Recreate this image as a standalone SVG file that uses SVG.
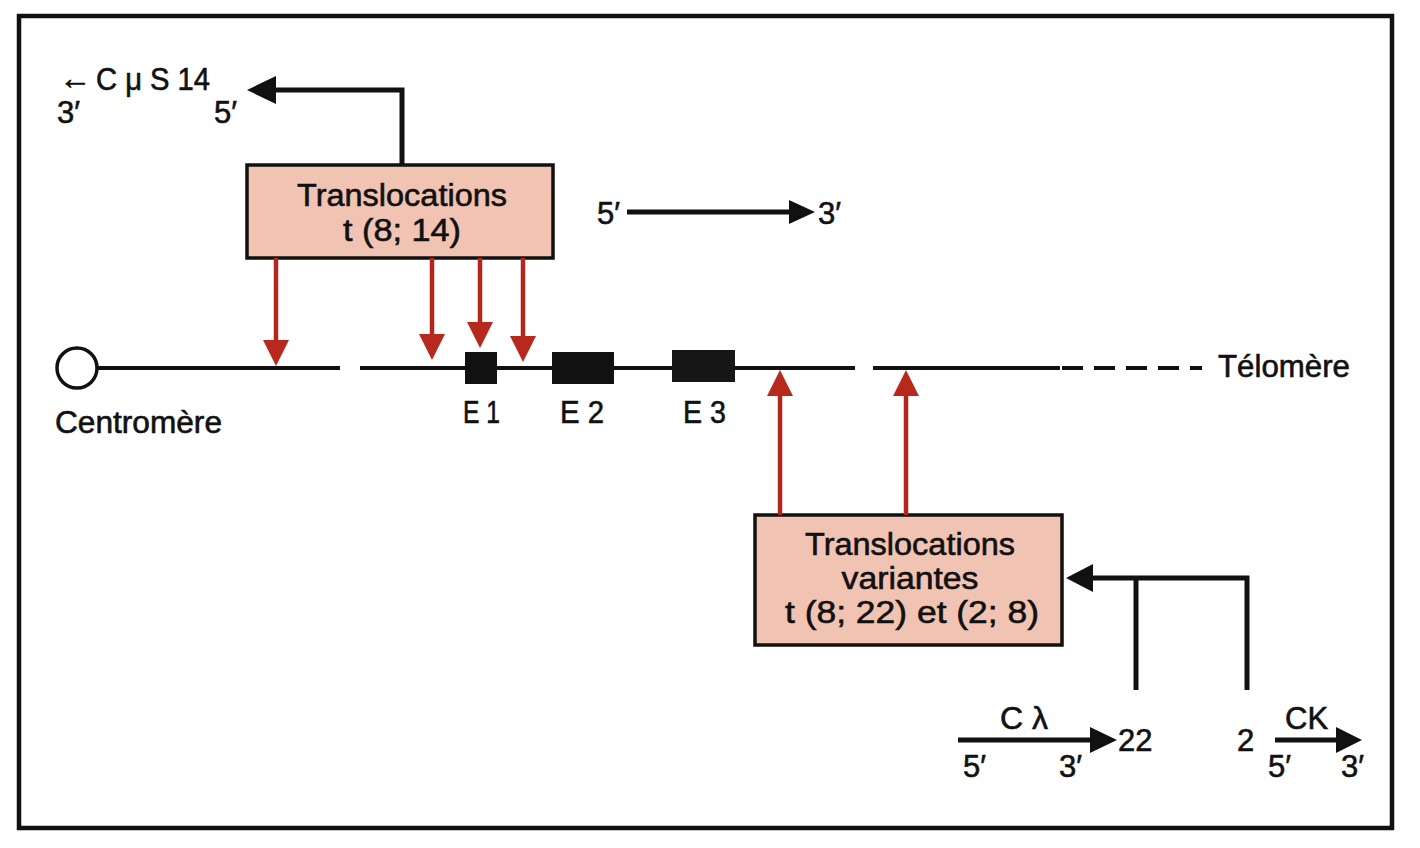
<svg xmlns="http://www.w3.org/2000/svg" width="1420" height="848" viewBox="0 0 1420 848">
<defs>
<style>
text{font-family:"Liberation Sans",Arial,sans-serif;fill:#111;stroke:#111;stroke-width:0.6;}
.lbl{font-size:31px;}
.box{fill:#f0c3b2;stroke:#111;stroke-width:3.5;}
.boxt{font-size:32px;text-anchor:middle;}
.red{stroke:#b3261c;stroke-width:4.5;fill:none;}
.redh{fill:#b8291d;}
.blk{stroke:#111;stroke-width:5;fill:none;}
.blkh{fill:#111;}
.chr{stroke:#111;stroke-width:4;fill:none;}
</style>
</defs>
<rect x="0" y="0" width="1420" height="848" fill="#fff"/>
<rect x="19" y="16" width="1373" height="812" fill="none" stroke="#111" stroke-width="4.5"/>

<g id="chromosome">
<circle cx="77" cy="368" r="20" fill="#fff" stroke="#111" stroke-width="3.5"/>
<line class="chr" x1="97" y1="368" x2="340" y2="368"/>
<line class="chr" x1="360" y1="368" x2="855" y2="368"/>
<line class="chr" x1="873" y1="368" x2="1060" y2="368"/>
<line class="chr" x1="1062" y1="368" x2="1202" y2="368" stroke-dasharray="21 11"/>
<text class="lbl" x="55" y="433" textLength="167" lengthAdjust="spacingAndGlyphs">Centromère</text>
<text class="lbl" x="1218" y="377" textLength="132" lengthAdjust="spacingAndGlyphs">Télomère</text>
</g>

<g id="E1">
<rect x="465" y="352" width="32" height="32" fill="#111"/>
<text class="lbl" x="463" y="423" textLength="37" lengthAdjust="spacingAndGlyphs">E 1</text>
</g>
<g id="E2">
<rect x="552" y="352" width="62" height="32" fill="#111"/>
<text class="lbl" x="560" y="423" textLength="44" lengthAdjust="spacingAndGlyphs">E 2</text>
</g>
<g id="E3">
<rect x="672" y="350" width="63" height="32" fill="#161616"/>
<text class="lbl" x="683" y="423" textLength="43" lengthAdjust="spacingAndGlyphs">E 3</text>
</g>

<g id="box1">
<rect class="box" x="247" y="165" width="306" height="93"/>
<text class="boxt" x="402" y="206" textLength="210" lengthAdjust="spacingAndGlyphs">Translocations</text>
<text class="boxt" x="402" y="241" textLength="118" lengthAdjust="spacingAndGlyphs">t (8; 14)</text>
</g>

<g id="box2">
<rect class="box" x="755" y="515" width="307" height="130"/>
<text class="boxt" x="910" y="555" textLength="210" lengthAdjust="spacingAndGlyphs">Translocations</text>
<text class="boxt" x="910" y="589" textLength="137" lengthAdjust="spacingAndGlyphs">variantes</text>
<text class="boxt" x="912" y="623" textLength="254" lengthAdjust="spacingAndGlyphs">t (8; 22) et (2; 8)</text>
</g>

<g id="labels">
<text x="59" y="89" font-family="'DejaVu Sans',sans-serif" font-size="32" stroke-width="0.3">←</text>
<text class="lbl" x="96" y="90" textLength="114" lengthAdjust="spacingAndGlyphs">C μ S 14</text>
<text class="lbl" x="57" y="123">3′</text>
<text class="lbl" x="214" y="123">5′</text>
<text class="lbl" x="597" y="224">5′</text>
<text class="lbl" x="818" y="224">3′</text>
<text class="lbl" x="1000" y="729" textLength="48" lengthAdjust="spacingAndGlyphs">C λ</text>
<text class="lbl" x="1118" y="751">22</text>
<text class="lbl" x="963" y="777">5′</text>
<text class="lbl" x="1059" y="777">3′</text>
<text class="lbl" x="1237" y="751">2</text>
<text class="lbl" x="1285" y="729">CK</text>
<text class="lbl" x="1268" y="777">5′</text>
<text class="lbl" x="1341" y="777">3′</text>
</g>

<g id="connectors">
<path class="blk" d="M402,165 V90 H272"/>
<polygon class="blkh" points="247,90 276,76 276,104"/>
<line class="blk" x1="627" y1="212" x2="795" y2="212" stroke-width="4"/>
<polygon class="blkh" points="815,212 789,200 789,224"/>
<path class="blk" d="M1247,690 V578 H1090"/>
<line class="blk" x1="1136" y1="578" x2="1136" y2="690"/>
<polygon class="blkh" points="1066,578 1093,564 1093,592"/>
<line class="blk" x1="958" y1="740" x2="1095" y2="740" stroke-width="4"/>
<polygon class="blkh" points="1117,740 1090,727 1090,753"/>
<line class="blk" x1="1275" y1="740" x2="1340" y2="740" stroke-width="4"/>
<polygon class="blkh" points="1362,740 1336,727 1336,753"/>

<line class="red" x1="276" y1="258" x2="276" y2="342"/>
<polygon class="redh" points="276,366 263,340 289,340"/>
<line class="red" x1="432" y1="258" x2="432" y2="336"/>
<polygon class="redh" points="432,360 419,334 445,334"/>
<line class="red" x1="480" y1="258" x2="480" y2="324"/>
<polygon class="redh" points="480,348 467,322 493,322"/>
<line class="red" x1="523" y1="258" x2="523" y2="338"/>
<polygon class="redh" points="523,362 510,336 536,336"/>
<line class="red" x1="780" y1="515" x2="780" y2="394"/>
<polygon class="redh" points="780,370 767,396 793,396"/>
<line class="red" x1="906" y1="515" x2="906" y2="394"/>
<polygon class="redh" points="906,370 893,396 919,396"/>
</g>
</svg>
